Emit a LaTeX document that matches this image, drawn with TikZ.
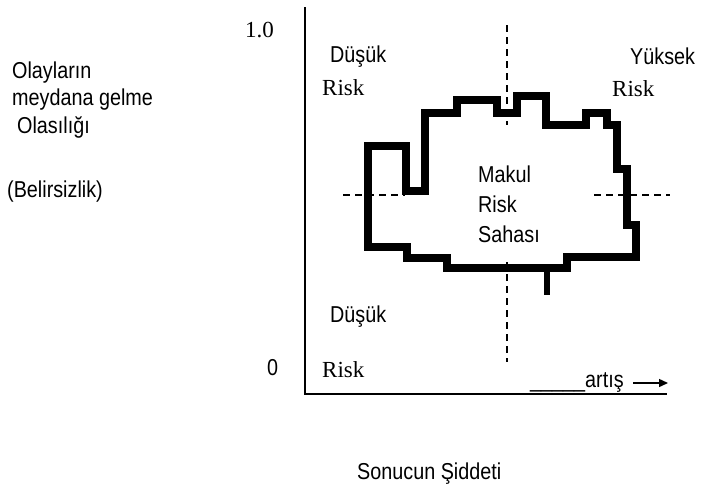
\documentclass[tikz,border=0pt]{standalone}
\usepackage{fontspec}
\setmainfont{Liberation Sans}[FakeStretch=0.86]
\newfontfamily\riskfont{Liberation Serif}
\usetikzlibrary{arrows.meta}
\begin{document}
\begin{tikzpicture}[x=1pt,y=-1pt,
  lbl/.style={inner sep=0pt,anchor=base west,font=\fontsize{23}{26}\selectfont},
  slbl/.style={inner sep=0pt,anchor=base west,font=\riskfont\fontsize{23}{26}\selectfont},
  axis/.style={line width=1.4pt},
  guide/.style={line width=1.4pt,dash pattern=on 7pt off 5pt},
  region/.style={line width=7.5pt,line join=miter,line cap=rect}]
\useasboundingbox (0,0) rectangle (703,488);

% axes
\coordinate (origin) at (305,394);
\coordinate (ytop) at (305,7);
\coordinate (xend) at (667,394);
\draw[axis] (ytop) -- (origin) -- (xend);

% quadrant guides
\coordinate (v1) at (507,25);
\coordinate (v2) at (507,125);
\coordinate (v3) at (507,262);
\coordinate (v4) at (507,362);
\coordinate (h1) at (343,195);
\coordinate (h2) at (405,195);
\coordinate (h3) at (594,195);
\coordinate (h4) at (670,195);
\draw[guide] (v1) -- (v2);
\draw[guide] (v3) -- (v4);
\draw[guide] (h1) -- (h2);
\draw[guide] (h3) -- (h4);

% acceptable-risk region outline
\draw[region] (368,146) -- (406,146) -- (406,191) -- (425,191) -- (425,113)
  -- (457,113) -- (457,100) -- (497,100) -- (497,113) -- (517,113)
  -- (517,96) -- (546,96) -- (546,125) -- (586,125) -- (586,113)
  -- (607,113) -- (607,125) -- (617,125) -- (617,169) -- (627,169)
  -- (627,225) -- (636,225) -- (636,257) -- (567,257) -- (567,268)
  -- (447,268) -- (447,258) -- (407,258) -- (407,247) -- (368,247) -- cycle;
\draw[line width=6pt] (547,266) -- (547,295);

% axis values
\node[slbl] (one) at (245,37) {1.0};
\node[lbl] (zero) at (267,375) {0};

% vertical axis caption
\node[lbl] (ya1) at (12,78) {Olayların};
\node[lbl] (ya2) at (12,105) {meydana gelme};
\node[lbl] (ya3) at (17,133) {Olasılığı};
\node[lbl] (ya4) at (7,197) {(Belirsizlik)};

% quadrant labels
\node[lbl] (lowtop) at (330,62) {Düşük};
\node[slbl] (risktl) at (322,95) {Risk};
\node[lbl] (high) at (630,64) {Yüksek};
\node[slbl] (risktr) at (612,96) {Risk};
\node[lbl] (lowbot) at (330,322) {Düşük};
\node[slbl] (riskbl) at (322,377) {Risk};

% region label
\node[lbl] (mk1) at (478,182) {Makul};
\node[lbl] (mk2) at (478,212) {Risk};
\node[lbl] (mk3) at (478,242) {Sahası};

% increase marker
\node[lbl] (inc) at (530,387) {\_\_\_\_\_artış};
\coordinate (arrS) at (633,383);
\coordinate (arrE) at (668,383);
\draw[line width=1.4pt,-{Triangle[length=9pt,width=8pt]}] (arrS) -- (arrE);

% horizontal axis caption
\node[lbl] (xa) at (357,479) {Sonucun Şiddeti};
\end{tikzpicture}
\end{document}
